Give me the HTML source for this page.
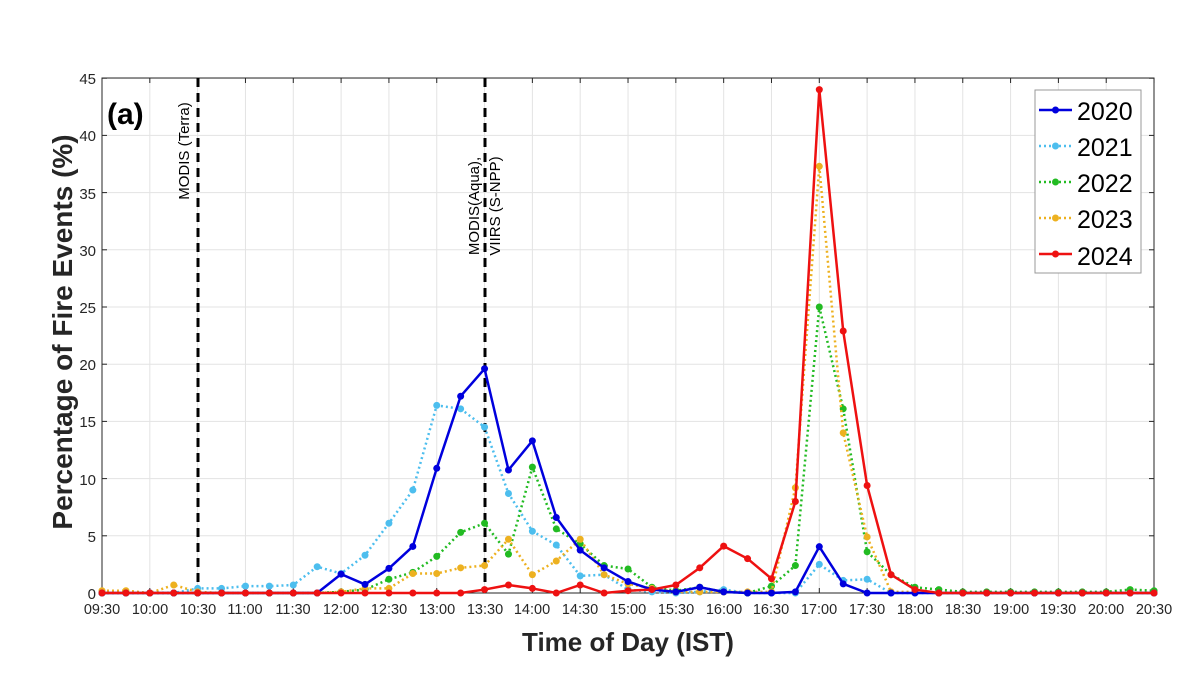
<!DOCTYPE html>
<html><head><meta charset="utf-8"><style>
body{margin:0;background:#fff;}
svg{display:block;font-family:"Liberation Sans",Arial,sans-serif;}
</style></head><body>
<svg id="s" width="1200" height="675" viewBox="0 0 1200 675">
<rect width="1200" height="675" fill="#fff"/>
<g id="grid" stroke="#e3e3e3" stroke-width="1"></g>
<rect x="102" y="78" width="1052" height="515" fill="none" stroke="#262626" stroke-width="1"/>
<g id="ticks" stroke="#262626" stroke-width="1"></g>
<line x1="198" y1="78" x2="198" y2="593" stroke="#000" stroke-width="3" stroke-dasharray="9,6"/>
<line x1="485" y1="78" x2="485" y2="593" stroke="#000" stroke-width="3" stroke-dasharray="9,6"/>
<g id="series"></g>
<g font-size="15" fill="#262626" text-anchor="end">
<text x="96" y="84">45</text><text x="96" y="141">40</text><text x="96" y="199">35</text><text x="96" y="256">30</text><text x="96" y="313">25</text><text x="96" y="370">20</text><text x="96" y="427">15</text><text x="96" y="485">10</text><text x="96" y="542">5</text><text x="96" y="599">0</text>
</g>
<g font-size="14.5" fill="#262626" text-anchor="middle">
<text x="102" y="614">09:30</text><text x="150" y="614">10:00</text><text x="198" y="614">10:30</text><text x="245" y="614">11:00</text><text x="293" y="614">11:30</text><text x="341" y="614">12:00</text><text x="389" y="614">12:30</text><text x="437" y="614">13:00</text><text x="485" y="614">13:30</text><text x="532" y="614">14:00</text><text x="580" y="614">14:30</text><text x="628" y="614">15:00</text><text x="676" y="614">15:30</text><text x="724" y="614">16:00</text><text x="771" y="614">16:30</text><text x="819" y="614">17:00</text><text x="867" y="614">17:30</text><text x="915" y="614">18:00</text><text x="963" y="614">18:30</text><text x="1011" y="614">19:00</text><text x="1058" y="614">19:30</text><text x="1106" y="614">20:00</text><text x="1154" y="614">20:30</text>
</g>
<text x="628" y="651" font-size="26" font-weight="bold" fill="#262626" text-anchor="middle">Time of Day (IST)</text>
<text transform="translate(72,332) rotate(-90)" font-size="28" font-weight="bold" fill="#262626" text-anchor="middle">Percentage of Fire Events (%)</text>
<text x="107" y="124" font-size="30" font-weight="bold" fill="#000">(a)</text>
<text transform="translate(189,151) rotate(-90)" font-size="15" fill="#000" text-anchor="middle">MODIS (Terra)</text>
<text transform="translate(479,206) rotate(-90)" font-size="15" fill="#000" text-anchor="middle">MODIS(Aqua),</text>
<text transform="translate(500,206) rotate(-90)" font-size="15" fill="#000" text-anchor="middle">VIIRS (S-NPP)</text>
<rect x="1035" y="90" width="106" height="183" fill="#fff" stroke="#999" stroke-width="1"/>
<g id="leg"></g>
<g font-size="25" fill="#000">
<text x="1077" y="120">2020</text><text x="1077" y="156">2021</text><text x="1077" y="192">2022</text><text x="1077" y="228">2023</text><text x="1077" y="265">2024</text>
</g>
</svg>
<script>
const NS="http://www.w3.org/2000/svg";
const X=i=>102+i*23.91, Y=v=>593-v*11.44;
function el(p,t,a){const e=document.createElementNS(NS,t);for(const k in a)e.setAttribute(k,a[k]);p.appendChild(e);return e;}
const g=document.getElementById('grid'),tk=document.getElementById('ticks');
for(let i=0;i<=22;i++){const x=102+i*47.82;el(g,'line',{x1:x,y1:78,x2:x,y2:593});el(tk,'line',{x1:x,y1:593,x2:x,y2:588});el(tk,'line',{x1:x,y1:78,x2:x,y2:83});}
for(let v=0;v<=45;v+=5){const y=Y(v);el(g,'line',{x1:102,y1:y,x2:1154,y2:y});el(tk,'line',{x1:102,y1:y,x2:107,y2:y});el(tk,'line',{x1:1154,y1:y,x2:1149,y2:y});}
const z=n=>Array(n).fill(0);
const d={
b:[...z(10),1.65,0.75,2.15,4.07,10.9,17.2,19.6,10.75,13.3,6.6,3.75,2.2,1.0,0.3,0.1,0.5,0.1,0,0,0.1,4.05,0.8,0,...z(12)],
c:[0,0,0,0,0.4,0.4,0.6,0.6,0.7,2.3,1.7,3.3,6.1,9.0,16.4,16.1,14.5,8.7,5.4,4.2,1.5,1.6,0.3,0.1,0,0.1,0.3,0,0,0,2.5,1.1,1.2,0,...z(11)],
g:[...z(10),0.1,0.3,1.2,1.8,3.2,5.3,6.1,3.4,11.0,5.6,4.3,2.4,2.1,0.5,0.2,0.5,0.1,0,0.6,2.4,25.0,16.1,3.6,1.6,0.5,0.3,0.1,0.1,0.1,0.1,0.1,0.1,0.1,0.3,0.2],
o:[0.2,0.2,0,0.7,0.1,0,0,0,0,0,0.1,0.4,0.4,1.7,1.7,2.2,2.4,4.7,1.6,2.8,4.7,1.6,0.8,0.4,0.1,0.1,0.1,0.1,0.1,9.2,37.3,14.0,4.9,0.1,0.1,...z(10)],
r:[...z(16),0.3,0.7,0.4,0,0.7,0,0.2,0.3,0.7,2.2,4.1,3.0,1.25,8.0,44.0,22.9,9.4,1.6,0.3,...z(10)]};
const S=[['c','#4DBEEE',2.5,'2,3',3.5],['g','#22BB22',2.5,'2,3',3.5],['o','#EDB120',2.5,'2,3',3.5],['b','#0000DD',2.5,null,3.5],['r','#EE1111',2.5,null,3.5]];
const sg=document.getElementById('series');
for(const [k,c,w,da,r] of S){const a=d[k];const pts=a.map((v,i)=>X(i)+','+Y(v)).join(' ');
const at={points:pts,fill:'none',stroke:c,'stroke-width':w,'stroke-linejoin':'round'};if(da)at['stroke-dasharray']=da;el(sg,'polyline',at);
a.forEach((v,i)=>el(sg,'circle',{cx:X(i),cy:Y(v),r:r,fill:c}));}
const lg=document.getElementById('leg');
[['#0000DD',null,114],['#4DBEEE','2,3',150],['#22BB22','2,3',186],['#EDB120','2,3',222],['#EE1111',null,258]].forEach(([c,da,y])=>{
const a={x1:1039,y1:y-4,x2:1072,y2:y-4,stroke:c,'stroke-width':2.5};if(da)a['stroke-dasharray']=da;el(lg,'line',a);el(lg,'circle',{cx:1055.5,cy:y-4,r:3.5,fill:c});});
</script>
</body></html>
